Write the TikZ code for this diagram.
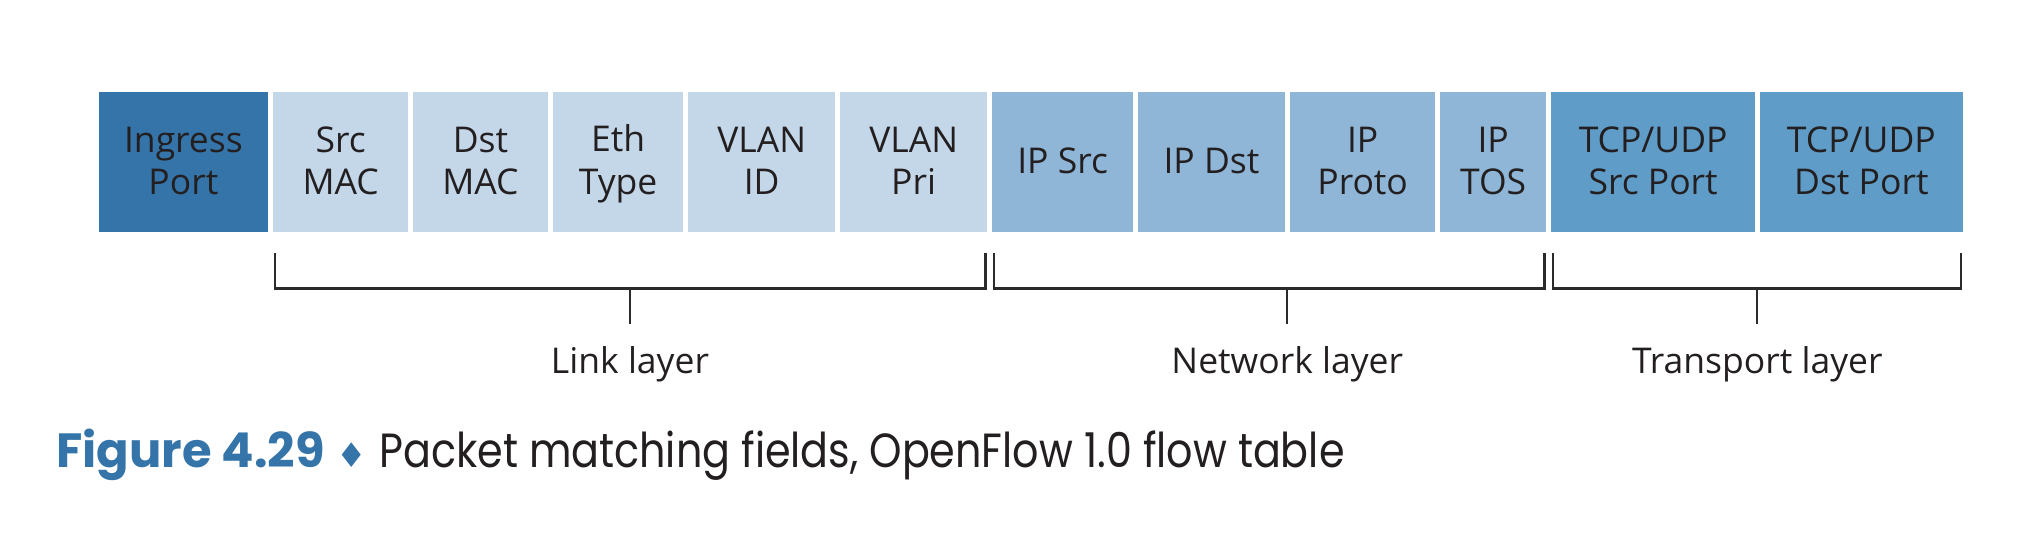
\documentclass[tikz,border=0pt]{standalone}
\usepackage{fontspec}
\setmainfont{Open Sans}
\newfontfamily\capfont{Poppins}
\newfontfamily\capregfont[FakeStretch=0.86]{Poppins}
\newfontfamily\symfont{DejaVu Sans}
\definecolor{ingresscol}{HTML}{3474A8}
\definecolor{linkcol}{HTML}{C4D7E8}
\definecolor{netcol}{HTML}{8FB6D6}
\definecolor{transcol}{HTML}{5F9CC7}
\definecolor{txtcol}{HTML}{231F20}
\definecolor{brkcol}{HTML}{2B2B2B}
\newcommand\fs{\rule[-7.6pt]{0pt}{37.6pt}}
\begin{document}
\begin{tikzpicture}[x=1pt,y=-1pt,
  field/.style={rectangle, inner sep=0pt, minimum height=140pt, text=txtcol,
    align=center, font=\fontsize{35.5}{42.3}\selectfont},
  brk/.style={draw=brkcol, line width=2.2pt},
  layerlbl/.style={anchor=base, text=txtcol, inner sep=0pt,
    font=\fontsize{35.5}{42}\selectfont},
  captionstyle/.style={anchor=base west, inner sep=0pt, text=txtcol,
    font=\capfont\fontsize{48}{50}\selectfont}]
\useasboundingbox (0,0) rectangle (2024,550);
% fields
\node[field, fill=ingresscol, minimum width=169.8pt] (ingress) at (183.4,162.3) {\fs Ingress\\\fs Port};
\node[field, fill=linkcol, minimum width=135.3pt] (srcmac) at (340.65,162.3) {\fs Src\\\fs MAC};
\node[field, fill=linkcol, minimum width=135pt] (dstmac) at (480.5,162.3) {\fs Dst\\\fs MAC};
\node[field, fill=linkcol, minimum width=130.3pt] (ethtype) at (618.15,162.3) {\fs Eth\\\fs Type};
\node[field, fill=linkcol, minimum width=147.3pt] (vlanid) at (761.65,162.3) {\fs VLAN\\\fs ID};
\node[field, fill=linkcol, minimum width=147.3pt] (vlanpri) at (913.65,162.3) {\fs VLAN\\\fs Pri};
\node[field, fill=netcol, minimum width=141.3pt] (ipsrc) at (1062.65,162.3) {\fs IP Src};
\node[field, fill=netcol, minimum width=147pt] (ipdst) at (1211.5,162.3) {\fs IP Dst};
\node[field, fill=netcol, minimum width=145.3pt] (ipproto) at (1362.65,162.3) {\fs IP\\\fs Proto};
\node[field, fill=netcol, minimum width=106.3pt] (iptos) at (1493.15,162.3) {\fs IP\\\fs TOS};
\node[field, fill=transcol, minimum width=203.7pt] (tcpsrc) at (1653.15,162.3) {\fs TCP/UDP\\\fs Src Port};
\node[field, fill=transcol, minimum width=203.3pt] (tcpdst) at (1861.35,162.3) {\fs TCP/UDP\\\fs Dst Port};
% brackets
\draw[brk] ([shift={(2,20)}]srcmac.south west) -- ++(0,36) -| ([shift={(-2,20)}]vlanpri.south east);
\draw[brk] ([shift={(2,20)}]ipsrc.south west) -- ++(0,36) -| ([shift={(-2,20)}]iptos.south east);
\draw[brk] ([shift={(2,20)}]tcpsrc.south west) -- ++(0,36) -| ([shift={(-2,20)}]tcpdst.south east);
% layer labels
\node[layerlbl] (linklbl) at (630,373.3) {Link layer};
\node[layerlbl] (netlbl) at (1287.3,373.3) {Network layer};
\node[layerlbl] (translbl) at (1757.3,373.3) {Transport layer};
\coordinate (linktick) at (630,288.3);
\coordinate (nettick) at (1287.3,288.3);
\coordinate (transtick) at (1757.3,288.3);
\draw[brk] (linktick) -- ++(0,35.7);
\draw[brk] (nettick) -- ++(0,35.7);
\draw[brk] (transtick) -- ++(0,35.7);
% caption
\node[captionstyle] (caption) at (56,467) {\textcolor{ingresscol}{\bfseries Figure 4.29}\hspace{0.25em}{\symfont\fontsize{34}{34}\selectfont\textcolor{ingresscol}{♦}}\hspace{0.25em}{\capregfont Packet matching fields, OpenFlow 1.0 flow table}};
\end{tikzpicture}
\end{document}
